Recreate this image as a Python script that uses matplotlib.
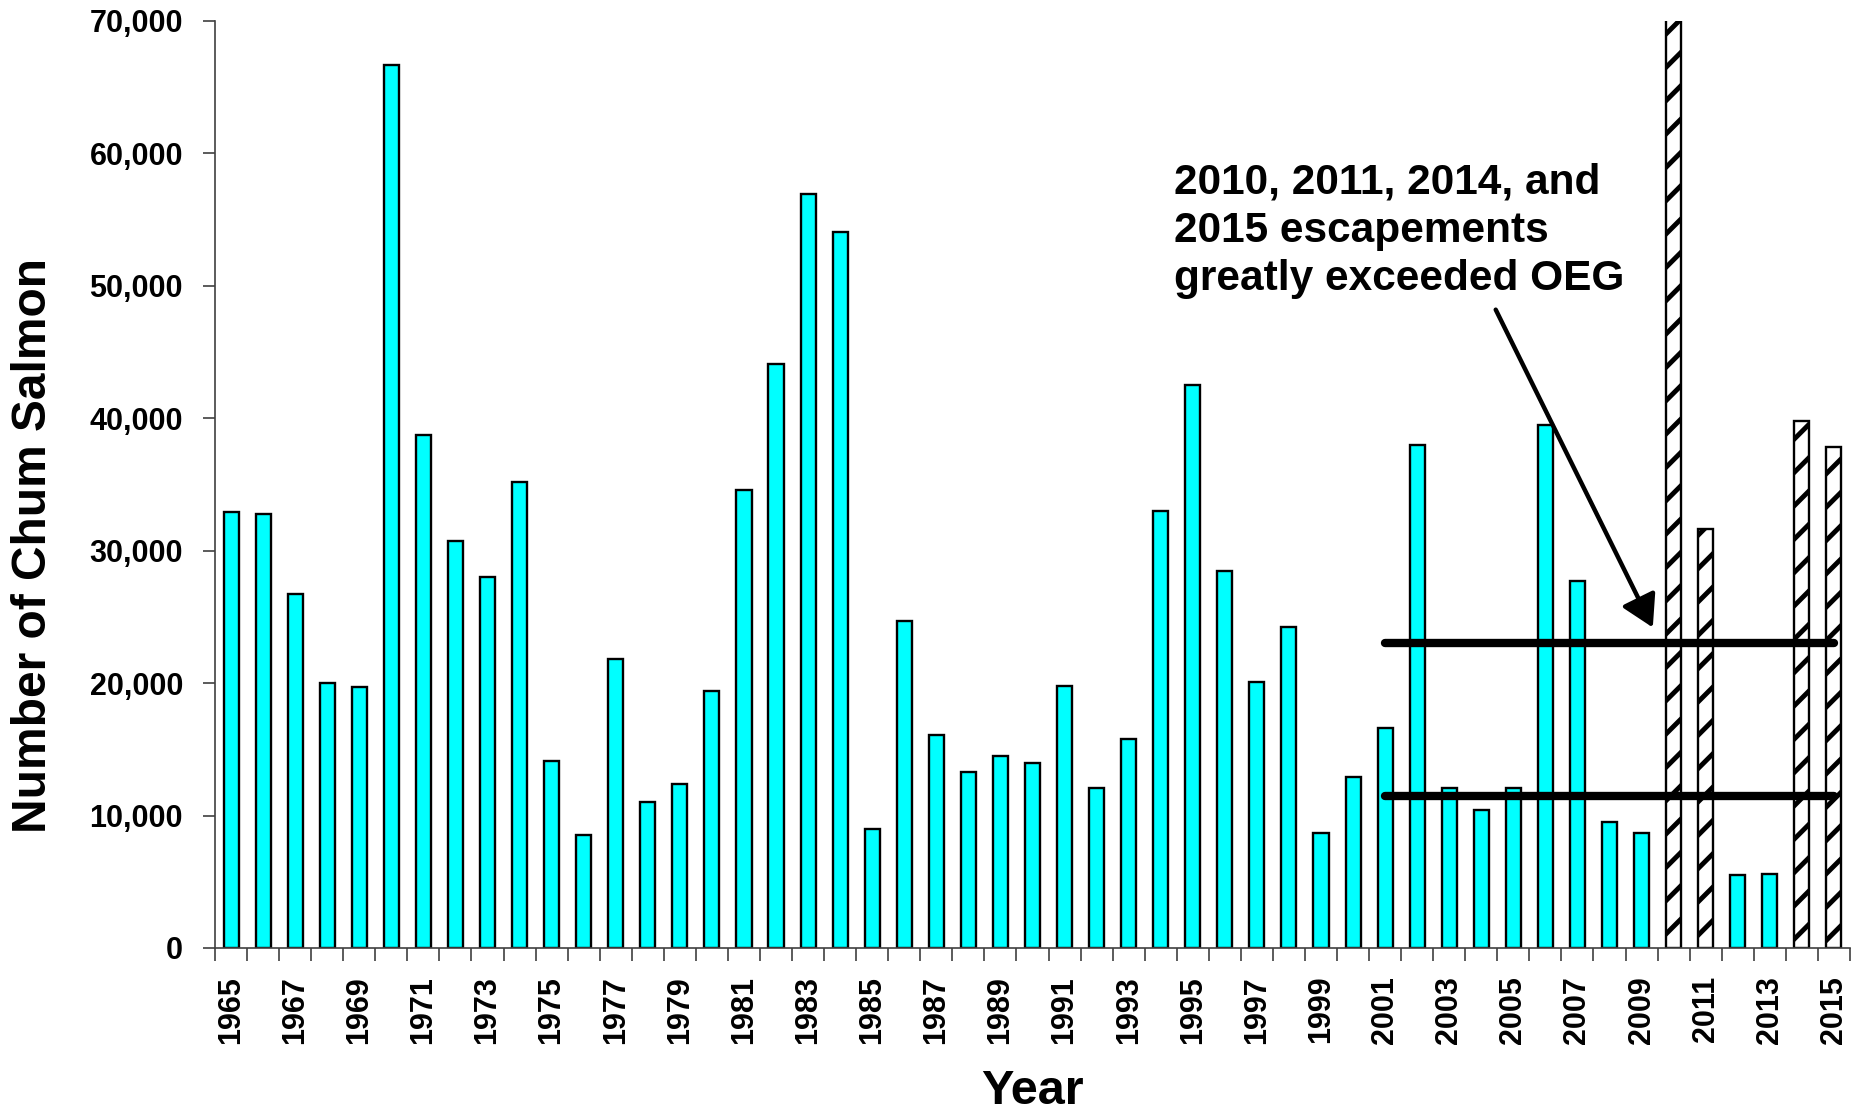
import numpy as np
import matplotlib.pyplot as plt
from matplotlib.ticker import FuncFormatter

plt.rcParams['font.family'] = ['Liberation Sans', 'DejaVu Sans']
plt.rcParams['font.weight'] = 'bold'
plt.rcParams['hatch.linewidth'] = 3.5

# chum salmon escapement by year
years = list(range(1965, 2016))
counts = [32900, 32800, 26700, 20000, 19700, 66700, 38700, 30700, 28000, 35200,
          14100, 8500, 21800, 11000, 12400, 19400, 34600, 44100, 56900, 54100,
          9000, 24700, 16100, 13300, 14500, 14000, 19800, 12100, 15800, 33000,
          42500, 28500, 20100, 24200, 8700, 12900, 16600, 38000, 12100, 10400,
          12100, 39500, 27700, 9500, 8700, 86000, 31600, 5500, 5600, 39800,
          37800]
exceeded = [2010, 2011, 2014, 2015]

# OEG range
oeg_low = 11500
oeg_high = 23000
oeg_start = 2001
oeg_end = 2015

note = "2010, 2011, 2014, and\n2015 escapements\ngreatly exceeded OEG"

fig = plt.figure(figsize=(18.6, 11.15), dpi=100)
ax = fig.add_axes([0.1156, 0.1498, 0.879, 0.8314])

x = np.arange(len(years))
for i, (yr, c) in enumerate(zip(years, counts)):
    if yr in exceeded:
        ax.bar(i, c, width=0.47, color='white', edgecolor='black',
               linewidth=1.7, hatch='/', zorder=2)
    else:
        ax.bar(i, c, width=0.47, color='#00FFFF', edgecolor='black',
               linewidth=1.7, zorder=2)

i0 = years.index(oeg_start)
i1 = years.index(oeg_end)
for lvl in (oeg_low, oeg_high):
    ax.plot([i0, i1], [lvl, lvl], color='black', lw=6,
            solid_capstyle='round', zorder=3)

ax.annotate('', xy=(years.index(2009) + 0.35, 24200),
            xytext=(years.index(2009) - 4.55, 48200),
            arrowprops=dict(arrowstyle='-|>,head_length=0.6,head_width=0.35',
                            color='black', lw=3.2, mutation_scale=32,
                            shrinkA=0, shrinkB=0),
            zorder=4)
ax.text(years.index(1995) - 0.6, 59300, note, fontsize=30.5, fontweight='bold',
        ha='left', va='top', linespacing=1.27)

ax.set_xlim(-0.5, len(years) - 0.5)
ax.set_ylim(0, 70000)
ax.set_yticks(np.arange(0, 70001, 10000))
ax.yaxis.set_major_formatter(FuncFormatter(lambda v, p: f'{int(v):,}'))
ax.set_xticks(x[::2])
ax.set_xticklabels([str(y) for y in years[::2]], rotation=90)
ax.set_xticks(np.arange(-0.5, len(years), 1.0), minor=True)

for s in ['top', 'right']:
    ax.spines[s].set_visible(False)
for s in ['left', 'bottom']:
    ax.spines[s].set_color('#404040')
    ax.spines[s].set_linewidth(1.2)
ax.tick_params(axis='y', direction='out', length=9, width=1.2, color='#404040',
               labelsize=22, pad=14)
ax.tick_params(axis='x', which='major', length=0, labelsize=22, pad=20)
ax.tick_params(axis='x', which='minor', direction='out', length=9, width=1.2,
               color='#404040')

ax.set_ylabel('Number of Chum Salmon', fontsize=34.5, fontweight='bold')
ax.yaxis.set_label_coords(-0.097, 0.434)
ax.set_xlabel('Year', fontsize=35, fontweight='bold', labelpad=18)

fig.savefig('out.png', dpi=100)
